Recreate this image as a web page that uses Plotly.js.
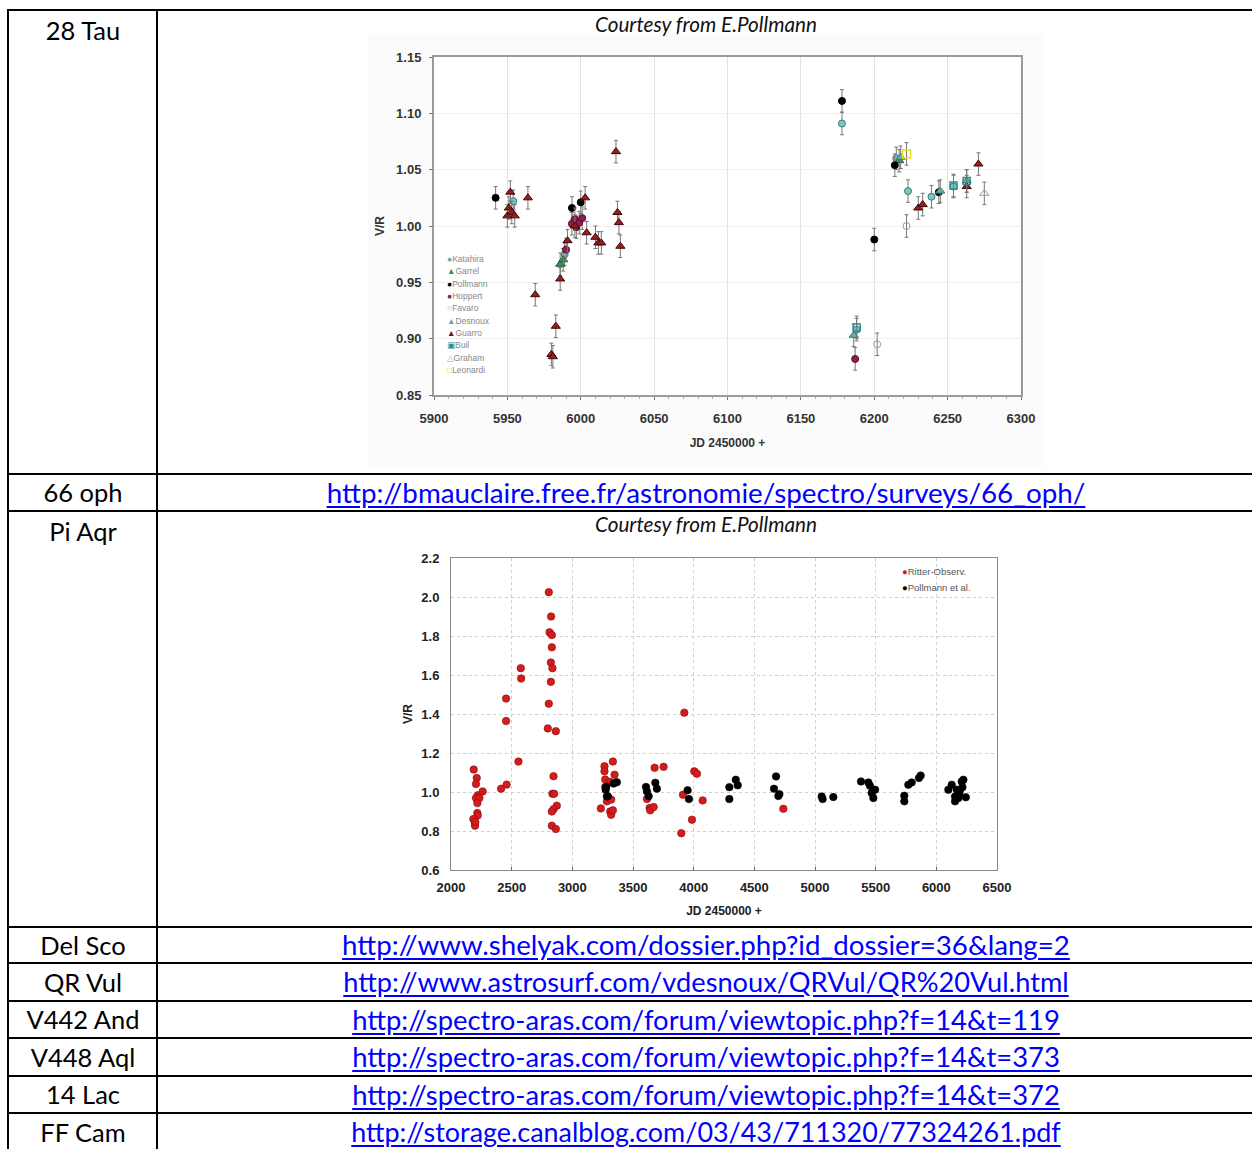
<!DOCTYPE html>
<html><head><meta charset="utf-8">
<script src="https://cdn.plot.ly/plotly-3.0.1.min.js"></script>
<style>
body{margin:0;background:#fff;width:1252px;height:1149px;overflow:hidden;position:relative;font-family:Lato,'Open Sans',sans-serif;}
.hl{position:absolute;left:7px;width:1250px;height:2px;background:#000;}
.vl{position:absolute;top:9px;width:2px;height:1145px;background:#000;}
.lab{position:absolute;left:9px;width:148px;text-align:center;color:#000;white-space:nowrap;font-size:26px;}
.lnk{position:absolute;left:159px;width:1094px;text-align:center;white-space:nowrap;font-size:26px;}
.lnk a{color:#0000ff;text-decoration:underline;text-underline-offset:3px;}
.court{position:absolute;left:159px;width:1094px;text-align:center;font-style:italic;white-space:nowrap;font-size:17px;color:#111;}
#c1{position:absolute;left:368px;top:34px;width:677px;height:432px;}
#c2{position:absolute;left:393px;top:546px;width:624px;height:380px;}
</style></head>
<body>
<div id="c1"></div>
<div id="c2"></div>
<div class="hl" style="top:9px"></div>
<div class="hl" style="top:473px"></div>
<div class="hl" style="top:510px"></div>
<div class="hl" style="top:926px;z-index:-1"></div>
<div class="hl" style="top:962px"></div>
<div class="hl" style="top:1000px"></div>
<div class="hl" style="top:1037px"></div>
<div class="hl" style="top:1075px"></div>
<div class="hl" style="top:1112px"></div>
<div class="vl" style="left:7px"></div>
<div class="vl" style="left:156px"></div>

<div class="lab" style="top:10px;line-height:40px"><span>28 Tau</span></div>
<div class="court" style="top:11px;line-height:26px"><span id="courtS">Courtesy from E.Pollmann</span></div>
<div class="lab" style="top:475px;line-height:35px"><span>66 oph</span></div>
<div class="lnk" style="top:475px;line-height:35px"><a id="L1" href="#">http://bmauclaire.free.fr/astronomie/spectro/surveys/66_oph/</a></div>
<div class="lab" style="top:512px;line-height:38px"><span>Pi Aqr</span></div>
<div class="court" style="top:511px;line-height:26px"><span>Courtesy from E.Pollmann</span></div>
<div class="lab" style="top:928px;line-height:34px"><span>Del Sco</span></div>
<div class="lnk" style="top:928px;line-height:34px"><a id="L2" href="#">http://www.shelyak.com/dossier.php?id_dossier=36&amp;lang=2</a></div>
<div class="lab" style="top:964px;line-height:36px"><span>QR Vul</span></div>
<div class="lnk" style="top:964px;line-height:36px"><a id="L3" href="#">http://www.astrosurf.com/vdesnoux/QRVul/QR%20Vul.html</a></div>
<div class="lab" style="top:1002px;line-height:35px"><span id="labS">V442 And</span></div>
<div class="lnk" style="top:1002px;line-height:35px"><a id="L4" href="#">http://spectro-aras.com/forum/viewtopic.php?f=14&amp;t=119</a></div>
<div class="lab" style="top:1039px;line-height:36px"><span>V448 Aql</span></div>
<div class="lnk" style="top:1039px;line-height:36px"><a id="L5" href="#">http://spectro-aras.com/forum/viewtopic.php?f=14&amp;t=373</a></div>
<div class="lab" style="top:1077px;line-height:35px"><span>14 Lac</span></div>
<div class="lnk" style="top:1077px;line-height:35px"><a id="L6" href="#">http://spectro-aras.com/forum/viewtopic.php?f=14&amp;t=372</a></div>
<div class="lab" style="top:1114px;line-height:36px"><span>FF Cam</span></div>
<div class="lnk" style="top:1114px;line-height:36px"><a id="L7" href="#">http://storage.canalblog.com/03/43/711320/77324261.pdf</a></div>

<script>
// ---------- 28 Tau data (V/R vs JD 2450000+) ----------
const katX = [5954, 5989, 6178, 6188, 6215, 6223, 6239, 6254];
const katY = [1.022, 0.975, 1.091, 0.908, 1.060, 1.031, 1.026, 1.035];
const garX = [5986, 5988, 6217];
const garY = [0.966, 0.970, 1.058];
const polX = [5942, 5994, 6000, 6178, 6200, 6214, 6244];
const polY = [1.025, 1.016, 1.021, 1.111, 0.988, 1.054, 1.030];
const hopX = [5990, 5994, 5996, 5997, 5999, 6001, 6187];
const hopY = [0.979, 1.002, 1.006, 0.999, 1.003, 1.007, 0.882];
const favX = [6202, 6222];
const favY = [0.895, 1.000];
const desX = [6186, 6218, 6245, 6263];
const desY = [0.903, 1.061, 1.031, 1.040];
const guaX = [5950, 5951, 5952, 5953, 5955, 5964, 5969, 5980, 5981, 5983, 5986, 5991, 5996, 6003, 6004, 6010, 6012, 6014, 6024, 6025, 6026, 6027, 6230, 6233, 6263, 6271];
const guaY = [1.009, 1.016, 1.030, 1.012, 1.009, 1.025, 0.939, 0.886, 0.884, 0.911, 0.953, 0.987, 1.000, 1.025, 0.994, 0.990, 0.985, 0.985, 1.066, 1.012, 1.003, 0.982, 1.016, 1.019, 1.035, 1.055];
const builX = [6188, 6254, 6263];
const builY = [0.910, 1.036, 1.040];
const graX = [6275];
const graY = [1.029];
const leoX = [6222];
const leoY = [1.064];
const tauNames = ['Katahira','Garrel','Pollmann','Hoppert','Favaro','Desnoux','Guarro','Buil','Graham','Leonardi'];
const tauErr = 0.01;

// ---------- Pi Aqr data ----------
const ritterX = [2187,2212,2206,2220,2206,2234,2217,2217,2220,2184,2198,2198,2261,2200,
 2413,2459,2454,2454,2556,2575,2578,
 2806,2825,2812,2831,2831,2823,2836,2823,2806,2798,2864,2845,2836,2850,2872,2845,2831,2831,2864,
 3235,3265,3265,3271,3271,3334,3348,3312,3298,3285,3320,3312,3320,3334,
 3615,3637,3642,3670,3678,3752,
 3923,3898,3912,3986,4005,4027,4074,4739];
const ritterY = [1.115,1.072,1.041,0.983,0.969,0.969,0.943,0.892,0.880,0.861,0.840,0.827,1.003,0.848,
 1.017,1.038,1.364,1.479,1.156,1.635,1.582,
 2.025,1.900,1.819,1.805,1.742,1.664,1.635,1.565,1.453,1.326,1.312,1.081,0.991,0.991,0.930,0.912,0.900,0.827,0.810,
 0.916,1.132,1.106,1.064,1.026,1.156,1.089,1.052,0.969,0.952,0.961,0.900,0.883,0.906,
 0.964,0.918,0.906,0.923,1.124,1.129,
 1.407,0.789,0.986,0.858,1.106,1.094,0.957,0.914];
const pollX = [3279,3285,3292,3340,3367,3275,
 3607,3615,3629,3684,3697,
 3950,3961,
 4294,4294,4347,4363,
 4662,4679,4698,4706,
 5055,5063,5151,
 5379,5440,5453,5467,5481,5495,
 5736,5736,5769,5797,5857,5871,
 6099,6127,6154,6154,6168,6182,6190,6195,6209,6215,6223,6243];
const pollY = [1.026,0.978,0.978,1.043,1.050,1.012,
 1.026,1.003,0.978,1.047,1.017,
 1.009,0.964,
 1.025,0.964,1.063,1.034,
 1.017,1.080,0.980,0.989,
 0.977,0.964,0.974,
 1.054,1.049,1.032,0.995,0.969,1.012,
 0.981,0.952,1.037,1.049,1.072,1.084,
 1.012,1.037,0.977,0.952,1.012,0.969,0.987,1.009,1.054,1.025,1.063,0.973];
const piNames = ['Ritter-Observ.','Pollmann et al.'];

// ---------- fit table text widths ----------
function fitEl(el, target){
  const w = el.getBoundingClientRect().width;
  const cur = parseFloat(getComputedStyle(el).fontSize);
  return cur*target/w;
}
function fitAll(sampleId, target, sel){
  const size = fitEl(document.getElementById(sampleId), target);
  document.querySelectorAll(sel).forEach(e=>e.style.fontSize=size+'px');
}
fitAll('labS',113,'.lab');
fitAll('courtS',222,'.court');
const linkW = {L1:759, L2:728, L3:726, L4:708, L5:708, L6:708, L7:710};
Object.keys(linkW).forEach(id=>{
  const a = document.getElementById(id);
  const size = fitEl(a, linkW[id]);
  a.parentNode.style.fontSize = size+'px';
});

// ---------- chart 1 ----------
const tauStyles = [
 {symbol:'circle', color:'#7fc4c0', line:{color:'#2f7f7a',width:1}, size:7},
 {symbol:'triangle-up', color:'#3c8c5c', line:{color:'#1f5f3a',width:1}, size:8},
 {symbol:'circle', color:'#000', line:{color:'#000',width:1}, size:7},
 {symbol:'circle', color:'#8b1f4f', line:{color:'#5a0f30',width:1}, size:7},
 {symbol:'circle-open', color:'#999', line:{color:'#999',width:1}, size:7},
 {symbol:'triangle-up', color:'#5fb0a8', line:{color:'#2f7f7a',width:1}, size:8},
 {symbol:'triangle-up', color:'#9b1c1c', line:{color:'#3a0a0a',width:1}, size:8},
 {symbol:'square-open', color:'#2e8b86', line:{color:'#2e8b86',width:1.5}, size:7},
 {symbol:'triangle-up-open', color:'#999', line:{color:'#999',width:1}, size:8},
 {symbol:'square-open', color:'#e8e020', line:{color:'#e8e020',width:1.5}, size:8}
];
const tauXs = [katX,garX,polX,hopX,favX,desX,guaX,builX,graX,leoX];
const tauYs = [katY,garY,polY,hopY,favY,desY,guaY,builY,graY,leoY];
const traces1 = tauNames.map((n,i)=>({
  type:'scatter', mode:'markers', name:n, x:tauXs[i], y:tauYs[i],
  marker:tauStyles[i],
  error_y:{type:'constant', value:tauErr, width:2, thickness:1, color:'#777'}
}));
const legSym = ['●','▲','●','●','○','▲','▲','▣','△','□'];
const legCol = ['#5fb0a8','#3c8c5c','#000','#8b1f4f','#aaa','#5fb0a8','#7a1010','#2e8b86','#aaa','#d8d020'];
const ann1 = tauNames.map((n,i)=>({
  xref:'paper', yref:'paper', x:0.018, y:0.402 - i*0.0365, xanchor:'left', yanchor:'middle',
  showarrow:false, align:'left',
  text:'<span style="color:'+legCol[i]+'">'+legSym[i]+'</span>'+n,
  font:{family:'Liberation Sans, DejaVu Sans', size:8.5, color:'#888'}
}));
const tickF = {family:'Liberation Sans, Arial', size:13, color:'#333', weight:700};
const layout1 = {
  width:677, height:432, margin:{l:66,r:24,t:23,b:71},
  paper_bgcolor:'#fbfbfb', plot_bgcolor:'#fff', showlegend:false,
  font:{family:'Liberation Sans, Arial', size:12, color:'#333'},
  xaxis:{range:[5900,6300], tick0:5900, dtick:50, showgrid:true, gridcolor:'#e2e2e2', gridwidth:1,
    showline:true, linecolor:'#9a9a9a', linewidth:2, mirror:true, zeroline:false,
    ticks:'outside', ticklen:3, tickcolor:'#777', tickfont:tickF, ticklabelstandoff:7,
    minor:{dtick:10, ticks:'outside', ticklen:2, tickcolor:'#aaa', showgrid:false},
    title:{text:'JD 2450000 +', font:{family:'Liberation Sans, Arial', size:12, color:'#333', weight:700}, standoff:14}},
  yaxis:{range:[0.85,1.15], tick0:0.85, dtick:0.05, tickformat:'.2f', showgrid:true, gridcolor:'#efefef',
    showline:true, linecolor:'#9a9a9a', linewidth:2, mirror:true, zeroline:false,
    ticks:'outside', ticklen:3, tickcolor:'#777', tickfont:tickF, ticklabelstandoff:5,
    title:{text:'V/R', font:{family:'Liberation Sans, Arial', size:12, color:'#333', weight:700}, standoff:9}},
  annotations:ann1
};
Plotly.newPlot('c1', traces1, layout1, {staticPlot:true, displayModeBar:false});

// ---------- chart 2 ----------
const traces2 = [
  {type:'scatter', mode:'markers', name:piNames[0], x:ritterX, y:ritterY,
   marker:{color:'#d41c1c', size:7.5, line:{color:'#8a0a0a', width:0.6}}},
  {type:'scatter', mode:'markers', name:piNames[1], x:pollX, y:pollY,
   marker:{color:'#000', size:7.5, line:{color:'#000', width:0.6}}}
];
const ann2 = piNames.map((n,i)=>({
  xref:'paper', yref:'paper', x:0.822, y:0.958 - i*0.052, xanchor:'left', yanchor:'middle',
  showarrow:false, align:'left',
  text:'<span style="color:'+(i===0?'#d41c1c':'#000')+'">●</span>'+n,
  font:{family:'Liberation Sans, Arial', size:9.5, color:'#555'}
}));
const tickF2 = {family:'Liberation Sans, Arial', size:13, color:'#222', weight:700};
const layout2 = {
  width:624, height:380, margin:{l:58,r:20,t:12,b:56},
  paper_bgcolor:'#fff', plot_bgcolor:'#fff', showlegend:false,
  font:{family:'Liberation Sans, Arial', size:12, color:'#222'},
  xaxis:{range:[2000,6500], tick0:2000, dtick:500, showgrid:true, gridcolor:'#cfcfcf', griddash:'dot', gridwidth:1,
    showline:true, linecolor:'#8a8a8a', linewidth:1, mirror:true, zeroline:false,
    ticks:'inside', ticklen:3, tickcolor:'#666', tickfont:tickF2, ticklabelstandoff:5,
    title:{text:'JD 2450000 +', font:{family:'Liberation Sans, Arial', size:12, color:'#222', weight:700}, standoff:13}},
  yaxis:{range:[0.6,2.2], tick0:0.6, dtick:0.2, tickformat:'.1f', showgrid:true, gridcolor:'#cfcfcf', griddash:'dot',
    showline:true, linecolor:'#8a8a8a', linewidth:1, mirror:true, zeroline:false,
    ticks:'', tickfont:tickF2, ticklabelstandoff:8,
    title:{text:'V/R', font:{family:'Liberation Sans, Arial', size:12, color:'#222', weight:700}, standoff:6}},
  annotations:ann2
};
Plotly.newPlot('c2', traces2, layout2, {staticPlot:true, displayModeBar:false});
</script>
</body></html>
